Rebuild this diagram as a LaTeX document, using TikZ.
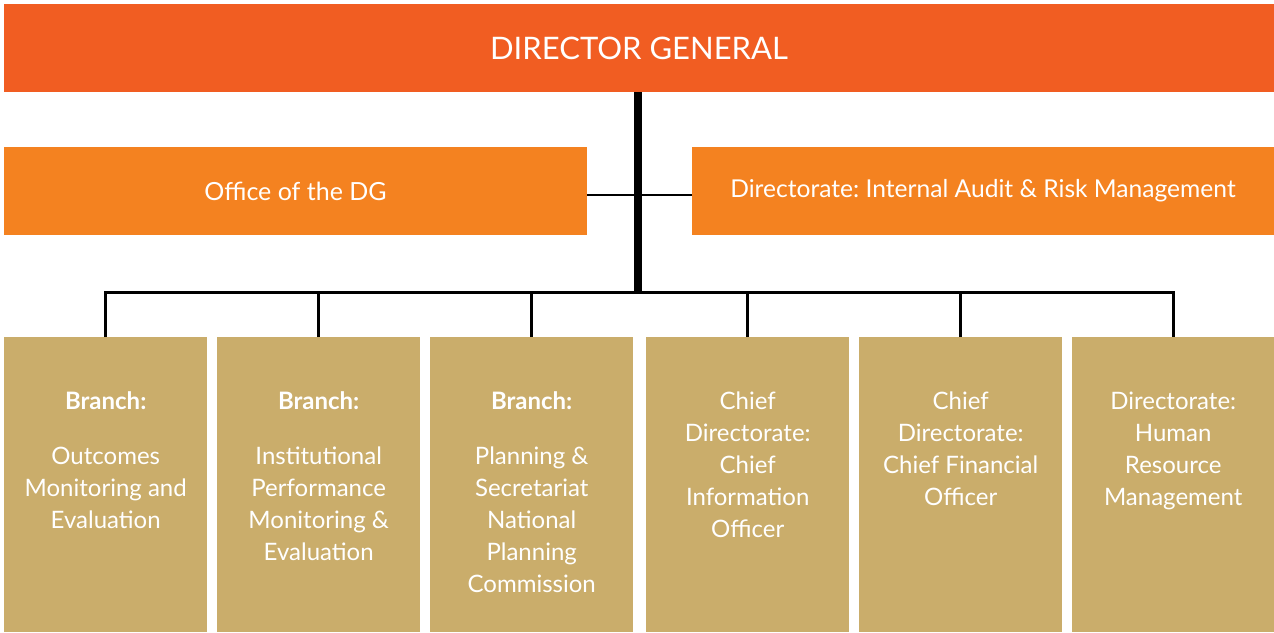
\documentclass[tikz,border=0pt]{standalone}
\usepackage{fontspec}
\setmainfont{Lato}
\frenchspacing
\begin{document}
\begin{tikzpicture}[x=1pt,y=-1pt,
  dgbox/.style={fill=dgorange,draw=none,minimum width=1270pt,minimum height=88pt,
    text=white,font=\fontsize{31}{36}\selectfont},
  officebox/.style={fill=midorange,draw=none,minimum width=583pt,minimum height=88pt,
    text=white,font=\fontsize{25}{30}\selectfont},
  unitbox/.style={fill=gold,draw=none,minimum width=203pt,minimum height=295pt,anchor=north west},
  unittext/.style={text=white,align=center,anchor=north,font=\fontsize{24}{32}\selectfont},
  thinline/.style={draw=black,line width=2.6pt,line join=miter,line cap=butt},
  trunkline/.style={draw=black,line width=8pt}
]
\definecolor{dgorange}{HTML}{F15D22}
\definecolor{midorange}{HTML}{F48220}
\definecolor{gold}{HTML}{CAAD6B}
\useasboundingbox (0,0) rectangle (1274,632);

% top level
\node[dgbox] (dg) at (639,48) {DIRECTOR GENERAL};

% offices beside the trunk
\node[officebox] (office) at (295.5,191) {Office of the DG};
\node[officebox,minimum width=582pt,font=\fontsize{24.6}{30}\selectfont] (audit) at (983,191) {Directorate: Internal Audit \& Risk Management};

% units
\node[unitbox] (b1) at (4,337) {};
\node[unitbox] (b2) at (217,337) {};
\node[unitbox] (b3) at (430,337) {};
\node[unitbox] (b4) at (646,337) {};
\node[unitbox] (b5) at (859,337) {};
\node[unitbox,minimum width=202pt] (b6) at (1072,337) {};

\node[unittext] (t1) at ([yshift=-51]b1.north) {\textbf{Branch:}\\[23pt]Outcomes\\Monitoring and\\Evaluation};
\node[unittext] (t2) at ([yshift=-51]b2.north) {\textbf{Branch:}\\[23pt]Institutional\\Performance\\Monitoring \&\\Evaluation};
\node[unittext] (t3) at ([yshift=-51]b3.north) {\textbf{Branch:}\\[23pt]Planning \&\\Secretariat\\National\\Planning\\Commission};
\node[unittext] (t4) at ([yshift=-51]b4.north) {Chief\\Directorate:\\Chief\\Information\\Officer};
\node[unittext] (t5) at ([yshift=-51]b5.north) {Chief\\Directorate:\\Chief Financial\\Officer};
\node[unittext] (t6) at ([yshift=-51]b6.north) {Directorate:\\Human\\Resource\\Management};

% connectors
\coordinate (hub) at (638,292.5);
\draw[thinline] ([yshift=-4]office.east) -- ([yshift=-4]audit.west);
\draw[thinline] (b1.north) |- (hub) -| (b6.north);
\foreach \k in {b2,b3,b4,b5}
  \draw[thinline] (\k.north) -- (\k.north |- hub);
\draw[trunkline] (dg.south -| hub) -- ([yshift=-1.3]hub);
\end{tikzpicture}
\end{document}
